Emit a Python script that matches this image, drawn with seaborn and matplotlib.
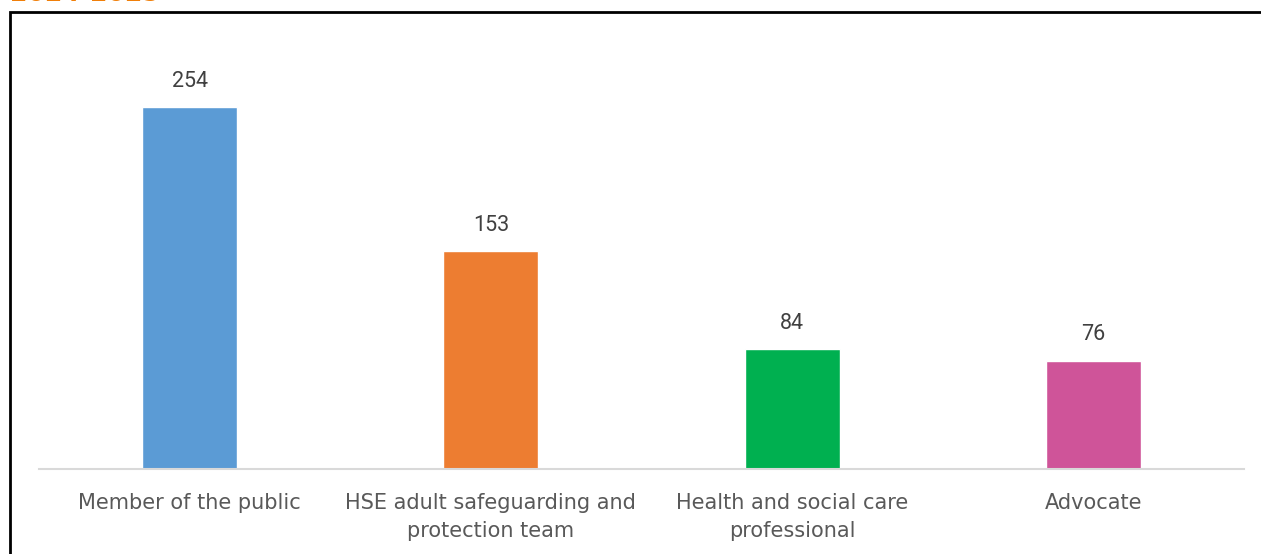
import matplotlib
matplotlib.use("Agg")
import matplotlib.pyplot as plt
import matplotlib.patches as mpatches
import seaborn as sns
import pandas as pd

categories = ["Member of the public", "HSE adult safeguarding and\nprotection team",
              "Health and social care\nprofessional", "Advocate"]
values = [254, 153, 84, 76]
colors = ["#5B9BD5", "#ED7D31", "#00B050", "#CF5499"]
title_text = "2024-2025"

sns.set_theme(style="white")
plt.rcParams['font.family'] = ['DejaVu Sans']

W, H = 1261, 554
fig = plt.figure(figsize=(W / 100, H / 100), dpi=100)
ax = fig.add_axes([39 / W, 85 / H, (1244 - 39) / W, (469 - 41.5) / H])

df = pd.DataFrame({"cat": categories, "val": values})
sns.barplot(data=df, x="cat", y="val", hue="cat", palette=colors, width=0.315,
            legend=False, ax=ax, saturation=1)

ax.set_ylim(0, 300)
ax.set_xlim(-0.5, 3.5)
ax.set_xlabel("")
ax.set_ylabel("")
ax.set_yticks([])
for s in ["top", "right", "left"]:
    ax.spines[s].set_visible(False)
ax.spines["bottom"].set_color("#D9D9D9")
ax.spines["bottom"].set_linewidth(1.5)
ax.tick_params(axis="x", length=0, pad=17, labelsize=15, labelcolor="#595959")
for lbl in ax.get_xticklabels():
    lbl.set_linespacing(1.55)

for c in ax.containers:
    ax.bar_label(c, labels=[f"{v:.0f}" for v in c.datavalues], padding=11,
                 fontsize=15.5, color="#404040", family="Roboto")

# outer frame (cut by figure edges at right and bottom)
fig.patches.append(mpatches.Rectangle((10 / W, -0.2), 1.2, 1 - 12 / H + 0.2,
                                      transform=fig.transFigure, fill=False,
                                      edgecolor="black", linewidth=2))
fig.text(10 / W, 1 - 1 / H, title_text, color="#F07F09", fontsize=18,
         fontweight="bold", va="baseline", ha="left")

fig.savefig("out.png", dpi=100)
